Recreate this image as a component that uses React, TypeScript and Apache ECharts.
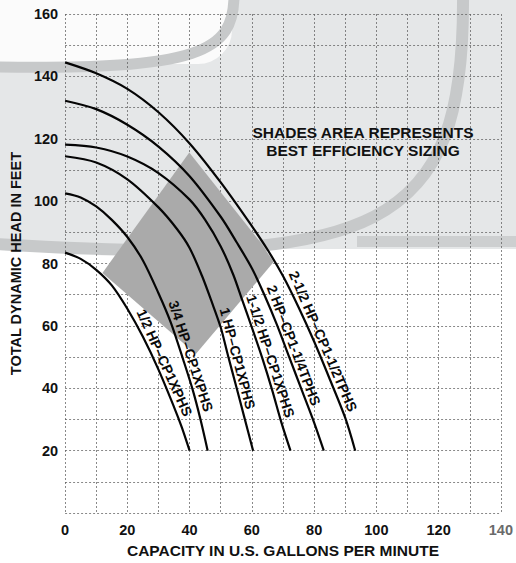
import React, { useEffect, useRef } from "react";
import * as echarts from "echarts";

// ---- data ----
const xMin = 0;
const xMax = 140;
const yMin = 0;
const yMax = 160;
const gridStep = 10;

const curveHalfHP = [[0, 83.5], [5, 81.5], [10, 78], [15, 73], [20, 65.5], [25, 56.5], [30, 46], [35, 34], [37.5, 27.5], [40, 20]];
const curve3_4HP = [[0, 102.5], [5, 101.2], [10, 98.3], [15, 94], [20, 88.5], [25, 81], [30, 70.5], [34, 61], [38, 49], [41, 39.5], [43.5, 30], [45.8, 20]];
const curve1HP = [[0, 114.4], [10, 112.4], [20, 107], [30, 98], [36, 91], [40, 85], [44, 76], [47, 68], [50, 59.5], [52.2, 51], [55, 40.5], [57.5, 31], [60.4, 20]];
const curve1_5HP = [[0, 118.1], [10, 117.2], [20, 114.3], [30, 109], [40, 100.5], [45, 94], [50, 85.5], [54, 76.5], [57, 68], [60, 59.5], [63.4, 49.5], [66.5, 39.5], [69.5, 29], [72.4, 20]];
const curve2HP = [[0, 132.2], [10, 129.5], [20, 124.5], [30, 117.5], [40, 108], [50, 95], [55, 87], [60, 78.5], [64, 70], [68, 60.5], [72, 50], [76, 39.5], [80, 29], [83.1, 20]];
const curve2_5HP = [[0, 144.5], [10, 141], [20, 136], [30, 128.5], [40, 118.5], [50, 106], [60, 92], [65, 84.5], [70, 76], [75, 66], [80, 55], [85, 43], [90, 30.5], [93.2, 20]];

const curveNames = [
  "1/2 HP–CP1XPHS",
  "3/4 HP–CP1XPHS",
  "1 HP–CP1XPHS",
  "1-1/2 HP–CP1XPHS",
  "2 HP–CP1-1/4TPHS",
  "2-1/2 HP–CP1-1/2TPHS",
];
const curves = [curveHalfHP, curve3_4HP, curve1HP, curve1_5HP, curve2HP, curve2_5HP];
// head (ft) at which each curve's label is centred
const labelHeads = [47.1, 49.5, 48.9, 49.5, 52.8, 54.0];

// best-efficiency shaded area (data coordinates)
const shadedArea = [[12, 77], [42, 51], [67, 80.5], [63, 86.5], [39.9, 115.6]];

const noteLines = ["SHADES AREA REPRESENTS", "BEST EFFICIENCY SIZING"];
const xTitle = "CAPACITY IN U.S. GALLONS PER MINUTE";
const yTitle = "TOTAL DYNAMIC HEAD IN FEET";

const FONT = 'Arial, "Liberation Sans", Helvetica, sans-serif';

function xAtHead(curve: number[][], y: number): number {
  for (let i = 0; i < curve.length - 1; i++) {
    const [x0, y0] = curve[i];
    const [x1, y1] = curve[i + 1];
    if ((y0 - y) * (y1 - y) <= 0 && y0 !== y1) {
      return x0 + ((y - y0) / (y1 - y0)) * (x1 - x0);
    }
  }
  return curve[curve.length - 1][0];
}

export default function App() {
  const ref = useRef<HTMLDivElement>(null);

  useEffect(() => {
    if (!ref.current) return;
    const chart = echarts.init(ref.current, undefined, { renderer: "svg" });

    const bandColor = "#c7c9ca";
    const background: any[] = [
      { id: "bg-top", type: "rect", z: -20, shape: { x: 0, y: 0, width: 516, height: 250 }, style: { fill: "#e5e7e8" } },
      { id: "bg-bottom", type: "rect", z: -20, shape: { x: 0, y: 249, width: 516, height: 320 }, style: { fill: "#ffffff" } },
      { id: "bg-tl", type: "rect", z: -19, shape: { x: -30, y: -30, width: 262, height: 94, r: [0, 0, 34, 0] }, style: { fill: "#fbfbfb" } },
      {
        id: "band-tl", type: "bezierCurve", z: -18,
        shape: { x1: -5, y1: 67, cpx1: 200, cpy1: 70, cpx2: 234, cpy2: 52, x2: 234, y2: -5 },
        style: { stroke: bandColor, lineWidth: 11, fill: "none" },
      },
      {
        id: "band-arc", type: "bezierCurve", z: -18,
        shape: { x1: -5, y1: 244, cpx1: 380, cpy1: 268, cpx2: 465, cpy2: 230, x2: 463, y2: -5 },
        style: { stroke: bandColor, lineWidth: 12, fill: "none" },
      },
      { id: "band-right", type: "rect", z: -18, shape: { x: 357, y: 236, width: 170, height: 11 }, style: { fill: "#cdcfd0" } },
    ];

    const note: any[] = noteLines.map((t, i) => ({
      id: "note" + i,
      type: "text",
      z: 20,
      x: 363,
      y: 132 + i * 18,
      style: {
        text: t, fill: "#111", font: "bold 15.5px " + FONT,
        align: "center", verticalAlign: "middle", textAlign: "center", textVerticalAlign: "middle",
      },
    }));

    const axisLabelStyle = { fontFamily: FONT, fontWeight: "bold" as const, fontSize: 14.5, color: "#111" };
    const splitLine = { show: true, lineStyle: { color: "#5a5a5a", width: 0.9, type: [2, 2] as any, opacity: 0.8 } };

    const option: any = {
      animation: false,
      backgroundColor: "transparent",
      grid: { left: 65, right: 13, top: 14, bottom: 48, containLabel: false },
      xAxis: {
        type: "value", min: xMin, max: xMax, interval: gridStep,
        axisLine: { show: false }, axisTick: { show: false },
        splitLine,
        axisLabel: {
          ...axisLabelStyle, margin: 9,
          color: (v: any) => (Number(v) === 140 ? "#6a6a6a" : "#111"),
          formatter: (v: number) => (v % 20 === 0 ? String(v) : ""),
          showMinLabel: true, showMaxLabel: true,
        },
        name: xTitle, nameLocation: "middle", nameGap: 28,
        nameTextStyle: { fontFamily: FONT, fontWeight: "bold", fontSize: 15.5, color: "#111" },
      },
      yAxis: {
        type: "value", min: yMin, max: yMax, interval: gridStep,
        axisLine: { show: false }, axisTick: { show: false },
        splitLine,
        axisLabel: {
          ...axisLabelStyle, margin: 7,
          formatter: (v: number) => (v % 20 === 0 && v > 0 ? String(v) : ""),
        },
        name: yTitle, nameLocation: "middle", nameGap: 40, nameRotate: 90,
        nameTextStyle: { fontFamily: FONT, fontWeight: "bold", fontSize: 14.5, color: "#111" },
      },
      graphic: [...background, ...note],
      series: [
        {
          type: "custom",
          name: "Best efficiency",
          silent: true,
          z: 1,
          data: [[0, 0]],
          renderItem: (_params: any, api: any) => ({
            type: "polygon",
            shape: { points: shadedArea.map((p) => api.coord(p)) },
            style: { fill: "#aaaaaa", stroke: "none" },
          }),
        },
        ...curves.map((c, i) => ({
          type: "line",
          name: curveNames[i],
          data: c,
          smooth: 0.3,
          symbol: "none",
          silent: true,
          z: 3,
          lineStyle: { color: "#050505", width: 2.2 },
        })),
      ],
    };

    chart.setOption(option);

    const g = { xAxisIndex: 0, yAxisIndex: 0 };
    const offset = 8.5;
    const labels: any[] = curveNames.map((name, i) => {
      const c = curves[i];
      const yc = labelHeads[i];
      const pc = chart.convertToPixel(g, [xAtHead(c, yc), yc]) as number[];
      const pa = chart.convertToPixel(g, [xAtHead(c, yc + 7), yc + 7]) as number[];
      const pb = chart.convertToPixel(g, [xAtHead(c, yc - 7), yc - 7]) as number[];
      const dx = pb[0] - pa[0];
      const dy = pb[1] - pa[1];
      const len = Math.hypot(dx, dy) || 1;
      const ux = dx / len;
      const uy = dy / len;
      return {
        id: "lab" + i,
        type: "text",
        z: 20,
        x: pc[0] + uy * offset,
        y: pc[1] - ux * offset,
        rotation: -Math.atan2(dy, dx),
        style: {
          text: name, fill: "#0a0a0a", font: "bold 14px " + FONT,
          align: "center", verticalAlign: "middle", textAlign: "center", textVerticalAlign: "middle",
        },
      };
    });
    chart.setOption({ graphic: [...background, ...note, ...labels] });

    return () => chart.dispose();
  }, []);

  return (
    <div
      ref={ref}
      style={{ position: "fixed", left: 0, top: 0, width: 516, height: 563, background: "#fff" }}
    />
  );
}
